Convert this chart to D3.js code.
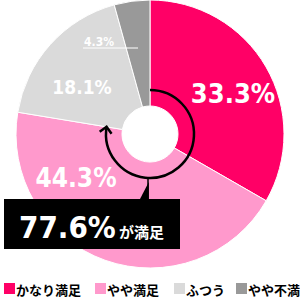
<!DOCTYPE html>
<meta charset="utf-8">
<script src="https://d3js.org/d3.v7.min.js"></script>
<style>
	body{ margin:0; background:#fff; }
	.num{ font-family:'DejaVu Sans Condensed','DejaVu Sans',sans-serif; font-weight:bold; fill:#fff; }
	.jp{ font-family:'Noto Sans CJK JP',sans-serif; font-weight:bold; }
</style>
<div id="chart"></div>
<script>

var categories = ["かなり満足","やや満足","ふつう","やや不満"]
var values = [33.3, 44.3, 18.1, 4.3]
var colors = ["#ff0066","#ff99cc","#dadada","#999999"]
var labels = ["33.3%","44.3%","18.1%","4.3%"]
var satisfied = "77.6%"

var w = 300, h = 300
var cx = 150, cy = 134
var outerR = 134, innerR = 28, loopR = 44

// label placement, per slice
var labelPos = [[233,103,27],[76,187,26],[82,94,19],[99,46,12]]
var legendX = [4,95,174,236]

var svg = d3.select("#chart").append("svg").attr("width",w).attr("height",h)

var pie = d3.pie().sort(null).value(function(d){return d})
var arcs = pie(values)
var arc = d3.arc().innerRadius(innerR).outerRadius(outerR)

var g = svg.append("g").attr("transform","translate("+cx+","+cy+")")
g.selectAll("path.slice").data(arcs).join("path")
	.attr("class","slice")
	.attr("d",arc)
	.attr("fill",function(d,i){return colors[i]})
	.attr("stroke","#fff")
	.attr("stroke-width",1)

// slice labels
svg.selectAll(".sliceLabel").data(labels).join("text")
	.attr("class","num sliceLabel")
	.attr("x",function(d,i){return labelPos[i][0]})
	.attr("y",function(d,i){return labelPos[i][1]})
	.attr("text-anchor","middle")
	.style("font-size",function(d,i){return labelPos[i][2]+"px"})
	.text(function(d){return d})

// leader line under 4.3%
svg.append("line").attr("x1",83).attr("x2",138).attr("y1",48).attr("y2",48)
	.attr("stroke","#fff").attr("stroke-width",1)

// loop arrow covering the satisfied share
var endA = arcs[1].endAngle
var p = d3.path()
p.arc(cx,cy,loopR,-Math.PI/2,endA-Math.PI/2)
svg.append("path").attr("d",p.toString()).attr("fill","none")
	.attr("stroke","#000").attr("stroke-width",2.5)

var tx = cx+loopR*Math.sin(endA), ty = cy-loopR*Math.cos(endA)
var dx = Math.cos(endA), dy = Math.sin(endA)
var ah = 6
var back = [tx-dx*ah, ty-dy*ah]
var nx = -dy, ny = dx
svg.append("path")
	.attr("d","M"+(back[0]+nx*ah)+","+(back[1]+ny*ah)+"L"+tx+","+ty+"L"+(back[0]-nx*ah)+","+(back[1]-ny*ah))
	.attr("fill","none").attr("stroke","#000").attr("stroke-width",2.5)
	.attr("stroke-linejoin","miter")

// callout box
var boxTop = 199
svg.append("line").attr("x1",148).attr("x2",148).attr("y1",cy+loopR).attr("y2",boxTop)
	.attr("stroke","#000").attr("stroke-width",1.5)
svg.append("path").attr("d","M148.8,182L148.8,"+boxTop+"L140,"+boxTop+"Z").attr("fill","#000")
svg.append("rect").attr("x",4).attr("y",boxTop).attr("width",176).attr("height",50).attr("fill","#000")
svg.append("text").attr("class","num").attr("x",19).attr("y",238)
	.style("font-size","31px").text(satisfied)
svg.append("text").attr("class","jp").attr("x",119).attr("y",238)
	.attr("fill","#fff").style("font-size","15px").text("が満足")

// legend
var leg = svg.selectAll(".leg").data(categories).join("g")
	.attr("transform",function(d,i){return "translate("+legendX[i]+",283)"})
leg.append("rect").attr("width",11).attr("height",11).attr("fill",function(d,i){return colors[i]})
leg.append("text").attr("class","jp").attr("x",12).attr("y",11.5)
	.attr("fill","#000").style("font-size","13px").text(function(d){return d})

</script>
